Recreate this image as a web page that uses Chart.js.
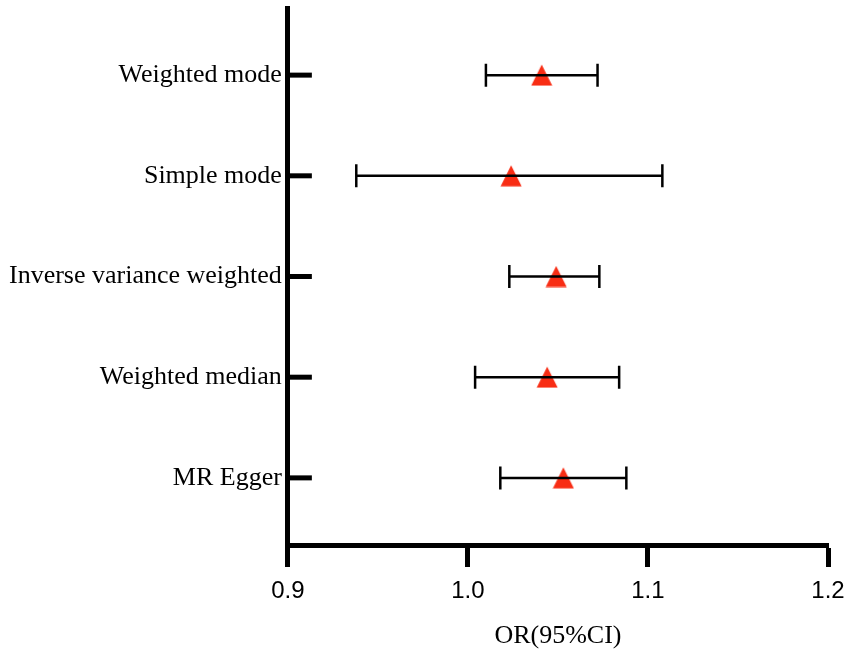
<!DOCTYPE html>
<html>
<head>
<meta charset="utf-8">
<script src="https://cdn.jsdelivr.net/npm/chart.js@4"></script>
<style>
  html, body { margin: 0; background: #fff; }
  #wrap { width: 850px; height: 656px; }
</style>
</head>
<body>
<div id="wrap"><canvas id="forest"></canvas></div>
<script>
// bottom to top
var methods = ["MR Egger", "Weighted median", "Inverse variance weighted", "Simple mode", "Weighted mode"];
var orValues = [1.053, 1.044, 1.049, 1.024, 1.041];
var ciLower = [1.018, 1.004, 1.023, 0.938, 1.010];
var ciUpper = [1.088, 1.084, 1.073, 1.108, 1.072];
var xTicks = [0.9, 1.0, 1.1, 1.2];

// red triangle marker
var tri = document.createElement("canvas");
tri.width = 22;
tri.height = 22;
var tctx = tri.getContext("2d");
tctx.fillStyle = "#f82d14";
tctx.beginPath();
tctx.moveTo(11, 0.5);
tctx.lineTo(21.5, 21.5);
tctx.lineTo(0.5, 21.5);
tctx.closePath();
tctx.fill();

var datasets = methods.map(function(m, i) {
  return {
    label: m + " CI",
    data: [{x: ciLower[i], y: i + 1}, {x: ciUpper[i], y: i + 1}],
    showLine: true,
    borderColor: "#000",
    borderWidth: 2.5,
    pointStyle: "line",
    rotation: 90,
    pointRadius: 11.5,
    pointBorderWidth: 2.5,
    pointBorderColor: "#000"
  };
});

datasets.push({
  label: "OR",
  data: methods.map(function(m, i) { return {x: orValues[i], y: i + 1}; }),
  pointStyle: tri,
  pointRadius: 11
});

var yTickMarks = {
  id: "yTickMarks",
  afterDraw: function(chart) {
    var ctx = chart.ctx,
        y = chart.scales.y,
        left = chart.chartArea.left;
    ctx.save();
    ctx.strokeStyle = "#000";
    ctx.lineWidth = 5;
    methods.forEach(function(m, i) {
      var py = y.getPixelForValue(i + 1);
      ctx.beginPath();
      ctx.moveTo(left, py);
      ctx.lineTo(left + 24, py);
      ctx.stroke();
    });
    ctx.restore();
  }
};

new Chart(document.getElementById("forest"), {
  type: "scatter",
  data: { datasets: datasets },
  plugins: [yTickMarks],
  options: {
    responsive: true,
    maintainAspectRatio: false,
    animation: false,
    events: [],
    layout: { autoPadding: false, padding: { left: 3, right: 0, top: 0, bottom: 4 } },
    plugins: {
      legend: { display: false },
      tooltip: { enabled: false }
    },
    scales: {
      x: {
        type: "linear",
        min: 0.9,
        max: 1.2,
        afterBuildTicks: function(axis) {
          axis.ticks = xTicks.map(function(v) { return {value: v}; });
        },
        afterFit: function(axis) {
          axis.paddingRight = 22;
        },
        ticks: {
          callback: function(v) { return Number(v).toFixed(1); },
          font: { family: "Liberation Sans", size: 24 },
          color: "#000",
          padding: 10,
          maxRotation: 0
        },
        grid: { drawOnChartArea: false, drawTicks: true, tickLength: 22, tickWidth: 5, tickColor: "#000" },
        border: { display: true, width: 5, color: "#000" },
        title: {
          display: true,
          text: "OR(95%CI)",
          font: { family: "Liberation Serif", size: 26 },
          color: "#000",
          padding: { top: 5, bottom: 0 }
        }
      },
      y: {
        type: "linear",
        min: 1 / 3,
        max: 5 + 2 / 3,
        afterBuildTicks: function(axis) {
          axis.ticks = methods.map(function(m, i) { return {value: i + 1}; });
        },
        afterFit: function(axis) {
          axis.paddingTop = 8;
          axis.paddingBottom = 0;
        },
        ticks: {
          callback: function(v) { return methods[v - 1]; },
          font: { family: "Liberation Serif", size: 26 },
          color: "#000",
          padding: 6
        },
        grid: { display: false, drawTicks: false },
        border: { display: true, width: 5, color: "#000" }
      }
    }
  }
});
</script>
</body>
</html>
